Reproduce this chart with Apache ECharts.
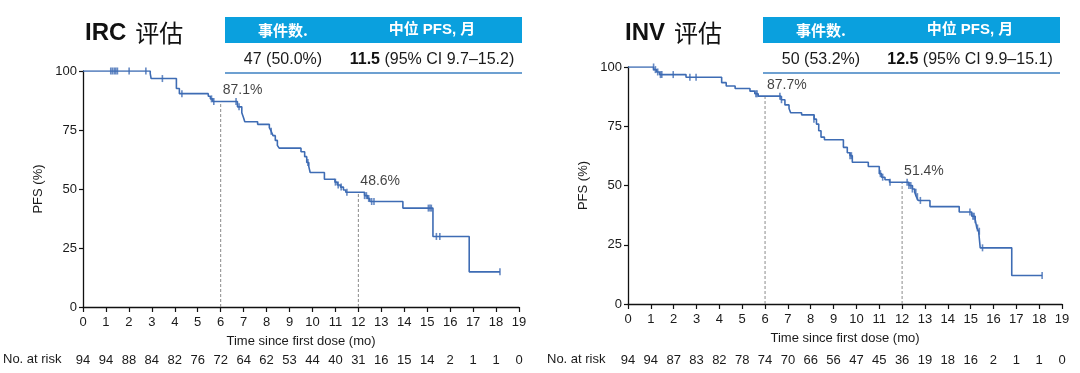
<!DOCTYPE html>
<html><head><meta charset="utf-8">
<script src="https://cdn.jsdelivr.net/npm/echarts@6/dist/echarts.min.js"></script>
<style>html,body{margin:0;padding:0;background:#fff}#c{width:1080px;height:373px}</style>
</head><body><div id="c"></div>
<script>
// ---- data ----
const xTicks = [0,1,2,3,4,5,6,7,8,9,10,11,12,13,14,15,16,17,18,19];
const yTicks = [0,25,50,75,100];
const riskIRC = [94,94,88,84,82,76,72,64,62,53,44,40,31,16,15,14,2,1,1,0];
const riskINV = [94,94,87,83,82,78,74,70,66,56,47,45,36,19,18,16,2,1,1,0];

const kmIRC = [[0,100],[2.93,98.9],[2.97,96.8],[4.07,92.6],[4.2,90.4],[5.46,89.3],[5.55,88.2],[5.65,87.1],
 [6.73,84.8],[6.92,82.3],[7.0,80.1],[7.05,78.5],[7.61,77.4],[8.12,76.0],[8.2,74.5],[8.28,72.6],[8.38,70.6],[8.47,68.5],[8.55,67.3],
 [9.5,65.8],[9.66,63.7],[9.75,61.2],[9.84,59.5],[9.9,57.0],[10.52,54.1],[10.98,52.9],[11.08,51.7],[11.22,50.8],[11.35,49.6],[11.45,48.6],
 [12.27,47.2],[12.4,46.0],[12.5,44.7],[13.94,41.9],[15.25,29.9],[16.83,14.9],[18.17,14.9]];
const censIRC = [[1.21,100],[1.28,100],[1.36,100],[1.43,100],[1.5,100],[2.01,100],[2.74,100],[3.46,96.8],[4.31,90.4],
 [5.6,88.2],[5.7,87.1],[6.67,87.1],[6.8,84.8],[8.2,74.5],[9.8,61.2],[11.0,52.9],[11.12,51.7],[11.25,50.8],[11.5,48.6],
 [12.27,47.2],[12.35,47.2],[12.45,46.0],[12.58,44.7],[12.68,44.7],[15.05,41.9],[15.12,41.9],[15.18,41.9],[15.4,29.9],[15.55,29.9],[18.17,14.9]];

const kmINV = [[0,100],[1.12,98.9],[1.25,97.9],[1.38,96.8],[2.54,95.7],[4.1,93.4],[4.3,92.0],[4.69,90.9],[5.34,89.8],[5.55,88.7],[5.7,87.7],
 [6.7,86.2],[6.87,84.0],[7.05,82.5],[7.12,80.7],[7.6,79.8],[8.15,78.0],[8.25,75.9],[8.35,73.1],[8.45,70.4],[8.6,69.3],
 [9.43,66.1],[9.6,63.8],[9.72,62.6],[9.82,59.8],[10.52,58.0],[11.0,55.0],[11.1,53.5],[11.25,52.4],[11.45,51.4],
 [12.3,50.0],[12.45,48.5],[12.55,47.2],[12.62,45.3],[12.7,43.7],[13.22,41.1],[14.5,38.8],[15.05,37.0],[15.2,35.6],[15.27,32.1],[15.35,30.7],[15.42,23.7],
 [16.8,12.0],[18.13,12.0]];
const censINV = [[1.12,100],[1.2,98.9],[1.3,97.9],[1.42,96.8],[1.48,96.8],[1.98,96.8],[2.71,95.7],[2.98,95.7],[5.6,88.7],[5.65,88.7],
 [6.65,87.7],[6.72,86.2],[8.14,78.0],[9.72,62.6],[9.78,62.6],[11.05,55.0],[11.15,53.5],[11.47,51.4],[12.22,51.4],[12.3,50.0],[12.38,50.0],
 [12.45,48.5],[12.6,47.2],[12.67,45.3],[12.8,43.7],[14.97,38.8],[15.1,37.0],[15.15,37.0],[15.2,35.6],[15.3,32.1],[15.38,30.7],[15.52,23.7],[18.13,12.0]];

const landIRC = [[6,87.1],[12,48.6]];
const landINV = [[6,87.7],[12,51.4]];
const titles = ['IRC', 'INV'];
const eventsTxt = ['47 (50.0%)', '50 (53.2%)'];
const medianTxt = ['11.5', '12.5'];
const ciTxt = [' (95% CI 9.7–15.2)', ' (95% CI 9.9–15.1)'];

// ---- chart ----
const FONT = "'Liberation Sans', Arial, 'Noto Sans CJK SC', sans-serif";
const BLUE = '#3e6cb4';
const grids = [
  {left: 83, right: 561, top: 71, bottom: 66},
  {left: 628, right: 18, top: 67, bottom: 69}
];
const riskOffset = [43, 46];
const risks = [riskIRC, riskINV];
const kms = [kmIRC, kmINV], cens = [censIRC, censINV], lands = [landIRC, landINV];

const xAxis = [], yAxis = [], series = [];
grids.forEach((g, i) => {
  xAxis.push({gridIndex: i, type: 'value', min: 0, max: 19, interval: 1,
    axisLine: {lineStyle: {color: '#111', width: 1.3}}, axisTick: {length: 5, lineStyle: {color: '#111', width: 1.2}},
    splitLine: {show: false}, axisLabel: {color: '#1a1a1a', fontSize: 13, fontFamily: FONT, margin: 9,
      formatter: v => xTicks.includes(v) ? String(v) : ''},
    name: 'Time since first dose (mo)', nameLocation: 'middle', nameGap: 28,
    nameTextStyle: {color: '#1a1a1a', fontSize: 13, fontFamily: FONT}});
  xAxis.push({gridIndex: i, type: 'value', min: 0, max: 19, interval: 1, position: 'bottom', offset: riskOffset[i],
    axisLine: {show: false}, axisTick: {show: false}, splitLine: {show: false},
    axisLabel: {color: '#1a1a1a', fontSize: 13, fontFamily: FONT, margin: 4, formatter: v => String(risks[i][v])}});
  yAxis.push({gridIndex: i, type: 'value', min: 0, max: 100, interval: 25,
    axisLine: {show: true, lineStyle: {color: '#111', width: 1.3}}, axisTick: {show: true, length: 4, lineStyle: {color: '#111', width: 1.2}},
    splitLine: {show: false}, axisLabel: {color: '#1a1a1a', fontSize: 13, fontFamily: FONT, margin: 6,
      formatter: v => yTicks.includes(v) ? String(v) : ''},
    name: 'PFS (%)', nameLocation: 'middle', nameGap: 38, nameRotate: 90,
    nameTextStyle: {color: '#1a1a1a', fontSize: 13, fontFamily: FONT}});
  lands[i].forEach(p => {
    series.push({type: 'line', xAxisIndex: i*2, yAxisIndex: i, data: [[p[0],0],[p[0],p[1]]], symbol: 'none', silent: true,
      lineStyle: {color: '#8a8a8a', width: 1, type: [3,2]}, z: 1});
  });
  series.push({type: 'line', xAxisIndex: i*2, yAxisIndex: i, data: kms[i], step: 'end', symbol: 'none',
    lineStyle: {color: BLUE, width: 1.6}, z: 3});
  series.push({type: 'scatter', xAxisIndex: i*2, yAxisIndex: i, data: cens[i], symbol: 'rect', symbolSize: [1.6, 7],
    itemStyle: {color: BLUE}, z: 4});
  series.push({type: 'scatter', xAxisIndex: i*2, yAxisIndex: i, data: lands[i], symbolSize: 0, z: 5,
    label: {show: true, position: 'top', align: 'left', distance: 4, offset: [2, 0], color: '#111', fontSize: 14, fontFamily: FONT,
      formatter: p => p.value[1].toFixed(1) + '%'}});
});

const graphic = [];
const tblX = [225, 763], titleX = [85, 625];
[0,1].forEach(i => {
  const x0 = tblX[i];
  graphic.push({type: 'text', left: titleX[i], top: 21, style: {
    text: '{a|' + titles[i] + '}{s| }{b|评估}', rich: {
      a: {fontSize: 24, fontWeight: 'bold', fontFamily: FONT, fill: '#111'},
      s: {fontSize: 24, fontFamily: FONT, width: 9},
      b: {fontSize: 24, fontFamily: "'Noto Sans CJK SC', sans-serif", fill: '#111'}}}});
  graphic.push({type: 'rect', shape: {x: x0, y: 17, width: 297, height: 26}, style: {fill: '#0aa0de'}});
  graphic.push({type: 'text', x: x0 + 58, y: 30, style: {text: '事件数.', fill: '#fff', font: "bold 15px 'Noto Sans CJK SC', sans-serif", align: 'center', verticalAlign: 'middle'}});
  graphic.push({type: 'text', x: x0 + 207, y: 30, style: {text: '中位 PFS, 月', fill: '#fff', font: "bold 15px 'Liberation Sans', 'Noto Sans CJK SC', sans-serif", align: 'center', verticalAlign: 'middle'}});
  graphic.push({type: 'text', x: x0 + 58, y: 60, style: {text: eventsTxt[i], fill: '#1a1a1a', font: "16px 'Liberation Sans', Arial, sans-serif", align: 'center', verticalAlign: 'middle'}});
  graphic.push({type: 'text', x: x0 + 207, y: 60, style: {text: '{m|' + medianTxt[i] + '}' + ciTxt[i], align: 'center', verticalAlign: 'middle',
    fontSize: 16, fontFamily: FONT, fill: '#1a1a1a', rich: {m: {fontSize: 16, fontWeight: 'bold', fontFamily: FONT, fill: '#111'}}}});
  graphic.push({type: 'line', shape: {x1: x0, y1: 73, x2: x0 + 297, y2: 73}, style: {stroke: '#3d80c2', lineWidth: 1.5}});
});
graphic.push({type: 'text', left: 3, top: 353, style: {text: 'No. at risk', font: "13px 'Liberation Sans', Arial, sans-serif", fill: '#1a1a1a'}});
graphic.push({type: 'text', left: 547, top: 353, style: {text: 'No. at risk', font: "13px 'Liberation Sans', Arial, sans-serif", fill: '#1a1a1a'}});

const chart = echarts.init(document.getElementById('c'), null, {renderer: 'canvas'});
chart.setOption({animation: false, backgroundColor: '#fff', grid: grids, xAxis, yAxis, series, graphic});
</script></body></html>
